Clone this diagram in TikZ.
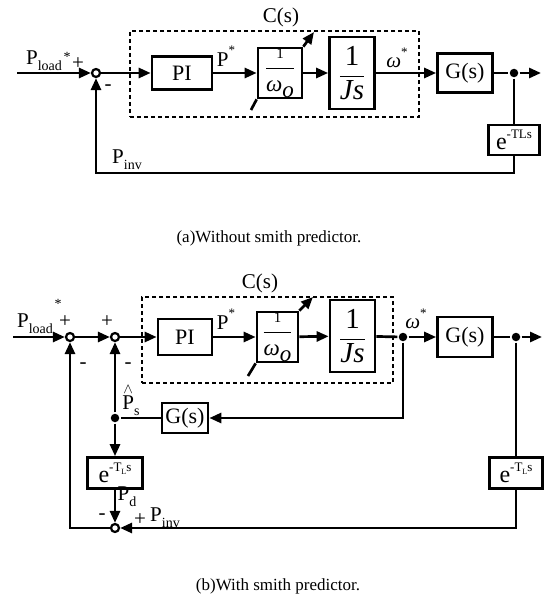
\documentclass[tikz,border=0pt]{standalone}
\usepackage{fontspec}
\setmainfont{Liberation Serif}
\usetikzlibrary{arrows.meta}
\newcommand\subtx[1]{\raisebox{-0.28em}{\fontsize{14}{14}\selectfont #1}}
\newcommand\suptx[1]{\raisebox{0.55em}{\fontsize{13}{13}\selectfont #1}}
\newcommand\etl{{\fontsize{24}{24}\selectfont e}\raisebox{0.5em}{\fontsize{13}{13}\selectfont -TLs}}
\newcommand\etlb{{\fontsize{24}{24}\selectfont e}\raisebox{0.5em}{\fontsize{13}{13}\selectfont -T\raisebox{-0.25em}{\fontsize{8}{8}\selectfont L}s}}
\newcommand\wfrac{{\fontsize{23}{24}\selectfont$\displaystyle\frac{\mbox{\fontsize{15}{15}\selectfont 1}}{\mbox{\itshape ω\raisebox{-0.25em}{o}}}$}}
\newcommand\jfrac{{\fontsize{29}{30}\selectfont$\displaystyle\frac{\mbox{1}}{\mbox{\itshape Js}}$}}
\begin{document}
\begin{tikzpicture}[x=1pt,y=-1pt,
  line width=2.7pt,
  >={Triangle[length=12pt,width=10pt]},
  blk/.style={draw, line width=2.7pt, inner sep=0pt, font=\fontsize{22}{24}\selectfont},
  lbl/.style={inner sep=0pt, font=\fontsize{21}{24}\selectfont},
  captxt/.style={inner sep=0pt, font=\fontsize{17}{20}\selectfont},
  sumj/.style={circle, draw, fill=white, line width=2.2pt, inner sep=0pt, minimum size=8pt},
  dotj/.style={circle, fill, inner sep=0pt, minimum size=8.5pt},
  cbox/.style={draw, dashed, line width=2pt, dash pattern=on 4pt off 3pt, inner sep=0pt}
]
\useasboundingbox (0,0) rectangle (544,602);
% ===================== (a) =====================
\node[cbox, minimum width=289, minimum height=86] (cba) at (274.5,74) {};
\node[lbl] (csa) at (281,17) {C(s)};
\coordinate (ina) at (17,73);
\node[sumj] (sa) at (96,73) {};
\node[blk, minimum width=60, minimum height=33] (pia) at (182,73) {PI};
\node[blk, minimum width=44, minimum height=50] (wa) at (280,73) {\wfrac};
\node[blk, minimum width=45, minimum height=72] (ja) at (352,73) {\jfrac};
\node[blk, minimum width=55, minimum height=39] (ga) at (465,73) {G(s)};
\node[dotj] (da) at (514,73) {};
\coordinate (outa) at (541,73);
\node[blk, minimum width=51, minimum height=30] (ea) at (514,140) {\etl};
\coordinate (bla) at (96,173);
\coordinate (wa1) at (251,110);
\coordinate (wa2) at (314,32);
\draw[->] (ina) -- (sa);
\draw[->] (sa) -- (pia);
\draw[->] (pia) -- (wa);
\draw[->] (wa) -- (ja);
\draw[->] (ja) -- (ga);
\draw (ga) -- (da);
\draw[->] (da) -- (outa);
\draw (da) -- (ea);
\draw[->] (ea) |- (bla) -- (sa);
\draw (wa1) -- (wa.south west);
\draw[->] (wa.north east) -- (wa2);
\node[lbl] (pla) at (44,61) {P\subtx{load}};
\node[lbl] (sta) at (67,57) {\fontsize{14}{14}\selectfont *};
\node[lbl] (psa) at (78,64) {+};
\node[lbl] (msa) at (108,88) {-};
\node[lbl] (pstar) at (226,56) {P\suptx{*}};
\node[lbl] (wstar) at (397,58) {\textit{ω}\suptx{*}};
\node[lbl] (pinva) at (127,160) {P\subtx{inv}};
\node[captxt] (capa) at (269,238) {(a)Without smith predictor.};
% ===================== (b) =====================
\node[cbox, minimum width=251, minimum height=86] (cbb) at (267.5,340) {};
\node[lbl] (csb) at (260,283) {C(s)};
\coordinate (inb) at (13,337);
\node[sumj] (sb1) at (70,337) {};
\node[sumj] (sb2) at (115,337) {};
\node[blk, minimum width=54, minimum height=36] (pib) at (185,337) {PI};
\node[blk, minimum width=41, minimum height=50] (wb) at (277.5,337) {\wfrac};
\node[blk, minimum width=45, minimum height=72] (jb) at (352.5,336) {\jfrac};
\node[dotj] (db1) at (403,337) {};
\node[blk, minimum width=55, minimum height=40] (gb) at (465,337) {G(s)};
\node[dotj] (db2) at (516,337) {};
\coordinate (outb) at (542,337);
\node[blk, minimum width=53, minimum height=31] (erb) at (516,473) {\etlb};
\node[blk, minimum width=55, minimum height=31] (elb) at (115,473) {\etlb};
\node[blk, minimum width=46, minimum height=30] (gfb) at (185,418) {G(s)};
\node[dotj] (db3) at (115,418) {};
\node[sumj] (sb3) at (115,528) {};
\coordinate (fbr) at (403,418);
\coordinate (blb) at (70,528);
\coordinate (wb1) at (248,376);
\coordinate (wb2) at (313,297);
\draw[->] (inb) -- (sb1);
\draw[->] (sb1) -- (sb2);
\draw[->] (sb2) -- (pib);
\draw[->] (pib) -- (wb);
\draw[->] (wb) -- (jb);
\draw (jb) -- (db1);
\draw[->] (db1) -- (gb);
\draw (gb) -- (db2);
\draw[->] (db2) -- (outb);
\draw[->] (db1) -- (fbr) -- (gfb);
\draw (gfb) -- (db3);
\draw[->] (db3) -- (sb2);
\draw[->] (db3) -- (elb);
\draw[->] (elb) -- (sb3);
\draw (db2) -- (erb);
\draw[->] (erb) |- (sb3);
\draw[->] (sb3) -- (blb) -- (sb1);
\draw (wb1) -- (wb.south west);
\draw[->] (wb.north east) -- (wb2);
\node[lbl] (plb) at (35,324) {P\subtx{load}};
\node[lbl] (stb) at (58,304) {\fontsize{14}{14}\selectfont *};
\node[lbl] (psb1) at (65,322) {+};
\node[lbl] (msb1) at (83,366) {-};
\node[lbl] (psb2) at (107,322) {+};
\node[lbl] (msb2) at (128,366) {-};
\node[lbl] (pstarb) at (226,319) {P\suptx{*}};
\node[lbl] (wstarb) at (416,319) {\textit{ω}\suptx{*}};
\node[lbl] (phat) at (131,400) {$\stackrel{\wedge}{\mbox{P}}$\subtx{s}};
\node[lbl] (pdb) at (127,497) {P\subtx{d}};
\node[lbl] (msb3) at (102,517) {-};
\node[lbl] (psb3) at (140,520) {+};
\node[lbl] (pinvb) at (165,518) {P\subtx{inv}};
\node[captxt] (capb) at (278,586) {(b)With smith predictor.};
\end{tikzpicture}
\end{document}
